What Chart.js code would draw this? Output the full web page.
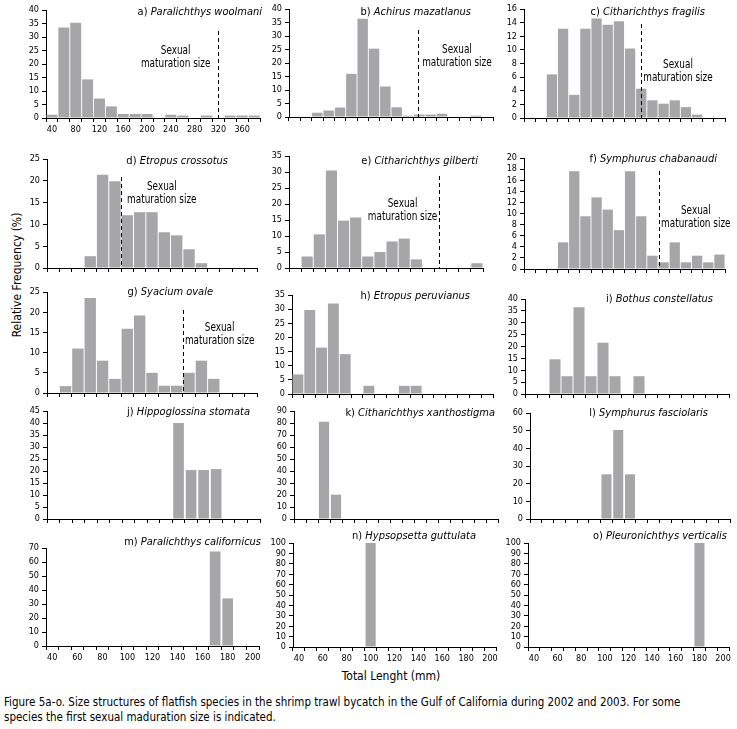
<!DOCTYPE html>
<html lang="en">
<head>
<meta charset="UTF-8">
<title>Figure 5a-o</title>
<script src="https://cdn.jsdelivr.net/npm/chart.js@4"></script>
<style>
    body { margin: 0; background: #fff; }
    #fig {
        position: relative;
        width: 737px;
        height: 729px;
        overflow: hidden;
        font-family: 'Liberation Sans Narrow', 'DejaVu Sans Condensed', sans-serif;
        color: #000;
    }
    #fig canvas { position: absolute; }
    .ylab {
        position: absolute; left: 17px; top: 275px;
        transform: translate(-50%, -50%) rotate(-90deg);
        font-size: 12px; white-space: nowrap;
    }
    .xlab {
        position: absolute; left: 391px; top: 676px;
        transform: translate(-50%, -50%);
        font-size: 12px; white-space: nowrap;
    }
    .caption {
        position: absolute; left: 4px; top: 695px;
        font-size: 11.5px; line-height: 15px; white-space: nowrap;
    }
</style>
</head>
<body>
<div id="fig">
    <div class="ylab">Relative Frequency (%)</div>
    <div class="xlab">Total Lenght (mm)</div>
    <div class="caption">Figure 5a-o. Size structures of flatfish species in the shrimp trawl bycatch in the Gulf of California during 2002 and 2003. For some<br>species the first sexual maduration size is indicated.</div>
</div>
<script>
// size classes (mm)
const binsA  = [40, 60, 80, 100, 120, 140, 160, 180, 200, 220, 240, 260, 280, 300, 320, 340, 360, 380];
const bins16 = [40, 50, 60, 70, 80, 90, 100, 110, 120, 130, 140, 150, 160, 170, 180, 190];
const bins17 = [40, 50, 60, 70, 80, 90, 100, 110, 120, 130, 140, 150, 160, 170, 180, 190, 200];
const bins18 = [40, 50, 60, 70, 80, 90, 100, 110, 120, 130, 140, 150, 160, 170, 180, 190, 200, 210];

// relative frequency (%)
const freqA = [1.2, 33.5, 35.3, 14.3, 7.2, 4.3, 1.5, 1.5, 1.5, 0, 1.2, 0.9, 0, 0.9, 0, 0.9, 0.9, 0.9];
const freqB = [0, 0, 1.6, 2.4, 3.5, 16.0, 36.4, 25.3, 11.3, 3.6, 0.5, 0.9, 0.9, 1.2, 0, 0, 0.5, 0];
const freqC = [0, 0, 6.4, 13.1, 3.4, 13.1, 14.6, 13.7, 14.2, 10.2, 4.3, 2.6, 2.1, 2.6, 1.6, 0.5, 0, 0];
const freqD = [0, 0, 0, 2.7, 21.4, 19.9, 12.1, 12.8, 12.8, 8.2, 7.5, 4.3, 1.1, 0, 0, 0, 0];
const freqE = [0, 3.6, 10.5, 30.5, 14.8, 15.8, 3.6, 5.0, 8.3, 9.2, 2.7, 0, 0, 0, 0, 1.5];
const freqF = [0, 0, 0, 4.8, 17.6, 9.5, 12.9, 10.7, 7.0, 17.6, 9.5, 2.4, 1.2, 4.8, 1.2, 2.4, 1.2, 2.6];
const freqG = [0, 1.7, 11.0, 23.5, 8.0, 3.5, 15.9, 19.2, 5.0, 1.8, 1.8, 5.0, 8.0, 3.5, 0, 0, 0];
const freqH = [6.9, 29.7, 16.4, 32.0, 14.1, 0, 2.9, 0, 0, 2.9, 2.9, 0, 0, 0, 0, 0, 0];
const freqI = [0, 0, 14.6, 7.5, 36.5, 7.5, 21.6, 7.5, 0, 7.5, 0, 0, 0, 0, 0, 0, 0];
const freqJ = [0, 0, 0, 0, 0, 0, 0, 0, 0, 0, 40.0, 20.4, 20.4, 20.8, 0, 0, 0];
const freqK = [0, 0, 81.0, 20.3, 0, 0, 0, 0, 0, 0, 0, 0, 0, 0, 0, 0, 0];
const freqL = [0, 0, 0, 0, 0, 0, 25.3, 50.4, 25.3, 0, 0, 0, 0, 0, 0, 0, 0];
const freqM = [0, 0, 0, 0, 0, 0, 0, 0, 0, 0, 0, 0, 0, 67.5, 34.0, 0, 0];
const freqN = [0, 0, 0, 0, 0, 0, 100, 0, 0, 0, 0, 0, 0, 0, 0, 0, 0];
const freqO = [0, 0, 0, 0, 0, 0, 0, 0, 0, 0, 0, 0, 0, 0, 100, 0, 0];

// first sexual maturation size (mm, same units as the bins)
const maturation = { a: 320, b: 149, c: 140, d: 95, e: 159, f: 156, g: 145 };

const FONT = "'Liberation Sans Narrow', 'DejaVu Sans Condensed', sans-serif";
const BAR = '#a6a6a8';
const YW = 32, PT = 16, PR = 12, XH = 20;

// box = [left, right, top, bottom] of the axes; title = [dx from right, dy from top]
const panels = [
    { id: 'a', sp: 'Paralichthys woolmani', bins: binsA, freq: freqA, yMax: 40, yStep: 5, labels: true,
      box: [46, 260, 10, 118], title: [2, 2], dashTop: 21, text: [54, 8, 'left'], bar: 0.92 },
    { id: 'b', sp: 'Achirus mazatlanus', bins: bins18, freq: freqB, yMax: 40, yStep: 5,
      box: [289, 493, 9, 117], title: [-22, 3], dashTop: 21, text: [54, 4, 'right'], bar: 0.92 },
    { id: 'c', sp: 'Citharichthys fragilis', bins: bins18, freq: freqC, yMax: 16, yStep: 2,
      box: [524, 725, 9, 118], title: [-20, 3], dashTop: 15, text: [69, 2, 'right'], bar: 0.92 },
    { id: 'd', sp: 'Etropus crossotus', bins: bins17, freq: freqD, yMax: 25, yStep: 5,
      box: [47, 257, 159, 268], title: [-29, 2], dashTop: 18, text: [41, 6, 'right'], bar: 0.92 },
    { id: 'e', sp: 'Citharichthys gilberti', bins: bins16, freq: freqE, yMax: 35, yStep: 5,
      box: [289, 483, 156, 268], title: [-5, 5], dashTop: 20, text: [61, 2, 'left'], bar: 0.92 },
    { id: 'f', sp: 'Symphurus chabanaudi', bins: bins18, freq: freqF, yMax: 20, yStep: 2,
      box: [524, 725, 158, 269], title: [-8, 1], dashTop: 13, text: [66, 2, 'right'], bar: 0.92 },
    { id: 'g', sp: 'Syacium ovale', bins: bins17, freq: freqG, yMax: 25, yStep: 5,
      box: [47, 257, 292, 393], title: [-44, 0], dashTop: 18, text: [49, 2, 'right'], bar: 0.92 },
    { id: 'h', sp: 'Etropus peruvianus', bins: bins17, freq: freqH, yMax: 35, yStep: 5,
      box: [292, 493, 295, 394], title: [-23, 1], bar: 0.92 },
    { id: 'i', sp: 'Bothus constellatus', bins: bins17, freq: freqI, yMax: 40, yStep: 5,
      box: [525, 729, 299, 394], title: [-16, 0], bar: 0.92 },
    { id: 'j', sp: 'Hippoglossina stomata', bins: bins17, freq: freqJ, yMax: 45, yStep: 5,
      box: [47, 260, 411, 519], title: [-10, 1], bar: 0.85 },
    { id: 'k', sp: 'Citharichthys xanthostigma', bins: bins17, freq: freqK, yMax: 90, yStep: 10,
      box: [294, 498, 411, 519], title: [-3, 2], bar: 0.85 },
    { id: 'l', sp: 'Symphurus fasciolaris', bins: bins17, freq: freqL, yMax: 60, yStep: 10,
      box: [530, 730, 413, 519], title: [-22, 0], bar: 0.85 },
    { id: 'm', sp: 'Paralichthys californicus', bins: bins17, freq: freqM, yMax: 70, yStep: 10, labels: true,
      box: [46, 259, 548, 646], title: [2, -6], bar: 0.85 },
    { id: 'n', sp: 'Hypsopsetta guttulata', bins: bins17, freq: freqN, yMax: 100, yStep: 10, labels: true,
      box: [293, 496, 543, 647], title: [-20, -7], bar: 0.85 },
    { id: 'o', sp: 'Pleuronichthys verticalis', bins: bins17, freq: freqO, yMax: 100, yStep: 10, labels: true,
      box: [528, 729, 543, 647], title: [-2, -7], bar: 0.85 }
];

// condensed text: draw wider font squeezed horizontally
function narrowText(ctx, str, cx, cy, sx) {
    ctx.save();
    ctx.translate(cx, cy);
    ctx.scale(sx, 1);
    ctx.fillText(str, 0, 0);
    ctx.restore();
}

// title, dashed maturation line and its label
const decor = {
    id: 'decor',
    afterDatasetsDraw(chart, args, o) {
        const { ctx, chartArea: a, scales: { x } } = chart;
        ctx.save();
        ctx.fillStyle = '#000';
        ctx.strokeStyle = '#000';
        ctx.textBaseline = 'middle';
        ctx.textAlign = 'right';
        const tx = a.right + o.title[0], ty = a.top + o.title[1];
        ctx.font = 'italic 11px ' + FONT;
        const sw = ctx.measureText(o.sp).width;
        ctx.fillText(o.sp, tx, ty);
        ctx.font = '11px ' + FONT;
        ctx.fillText(o.id + ') ', tx - sw, ty);

        if (o.mat != null) {
            const step = x.getPixelForValue(1) - x.getPixelForValue(0);
            const px = x.getPixelForValue(0) + (o.mat - o.bins[0]) / (o.bins[1] - o.bins[0]) * step;
            const lx = Math.round(px) + 0.5;
            ctx.lineWidth = 1;
            ctx.setLineDash([4, 3]);
            ctx.beginPath();
            ctx.moveTo(lx, a.top + o.dashTop);
            ctx.lineTo(lx, a.bottom);
            ctx.stroke();
            ctx.setLineDash([]);
            const sx = 0.86;
            ctx.font = '11.5px ' + FONT;
            const w = ctx.measureText('maturation size').width * sx;
            const cx = o.text[2] === 'left' ? px - o.text[1] - w / 2 : px + o.text[1] + w / 2;
            ctx.textAlign = 'center';
            narrowText(ctx, 'Sexual', cx, a.top + o.text[0] - 12.5, sx);
            narrowText(ctx, 'maturation size', cx, a.top + o.text[0], sx);
        }
        ctx.restore();
    }
};

const fig = document.getElementById('fig');
panels.forEach(p => {
    const [L, R, T, B] = p.box;
    const cv = document.createElement('canvas');
    const w = R - L + YW + PR, h = B - T + PT + XH;
    cv.width = w; cv.height = h;
    cv.style.left = (L - YW) + 'px';
    cv.style.top = (T - PT) + 'px';
    cv.style.width = w + 'px';
    cv.style.height = h + 'px';
    fig.appendChild(cv);

    new Chart(cv, {
        type: 'bar',
        data: {
            labels: p.bins,
            datasets: [{
                data: p.freq,
                backgroundColor: BAR,
                borderWidth: 0,
                barPercentage: p.bar,
                categoryPercentage: 1
            }]
        },
        options: {
            responsive: false,
            animation: false,
            layout: { padding: { top: PT, right: PR, left: 0, bottom: 0 } },
            plugins: {
                legend: { display: false },
                tooltip: { enabled: false },
                decor: {
                    id: p.id, sp: p.sp, title: p.title, bins: p.bins,
                    mat: maturation[p.id], dashTop: p.dashTop, text: p.text
                }
            },
            scales: {
                x: {
                    grid: { display: true, drawOnChartArea: false, drawTicks: true, tickLength: 4,
                            color: '#000', lineWidth: 1, offset: true },
                    border: { display: true, color: '#000', width: 1 },
                    ticks: {
                        autoSkip: false, maxRotation: 0, padding: 2, color: '#000',
                        font: { family: FONT, size: 9 },
                        callback: (v, i) => (p.labels && i % 2 === 0) ? p.bins[i] : ''
                    },
                    afterFit: s => { s.height = XH; }
                },
                y: {
                    min: 0, max: p.yMax,
                    grid: { display: true, drawOnChartArea: false, drawTicks: true, tickLength: 4,
                            color: '#000', lineWidth: 1 },
                    border: { display: true, color: '#000', width: 1 },
                    ticks: { stepSize: p.yStep, autoSkip: false, padding: 3, color: '#000',
                             font: { family: FONT, size: 9 } },
                    afterFit: s => { s.width = YW; }
                }
            }
        },
        plugins: [decor]
    });
});
</script>
</body>
</html>
